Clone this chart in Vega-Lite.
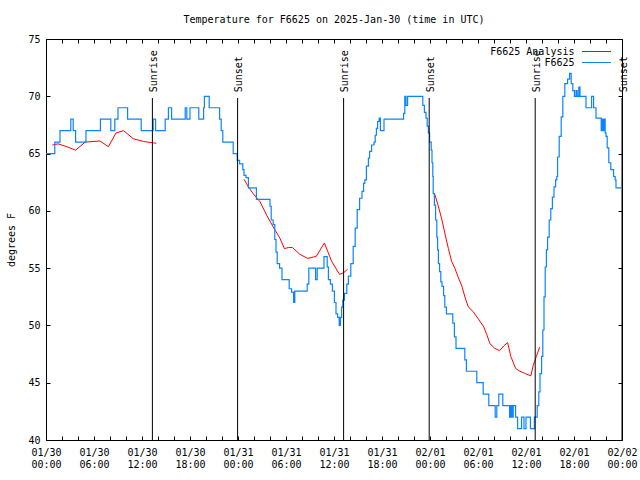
{
  "$schema": "https://vega.github.io/schema/vega-lite/v6.json",
  "width": 576,
  "height": 401,
  "autosize": "none",
  "padding": {"left": 46, "top": 39, "right": 18, "bottom": 40},
  "background": "white",
  "title": {"text": "Temperature for F6625 on 2025-Jan-30 (time in UTC)", "font": "DejaVu Sans Mono", "fontSize": 10, "fontWeight": "normal", "color": "black", "offset": 9, "anchor": "middle"},
  "config": {
    "view": {"stroke": "black", "strokeWidth": 1},
    "axis": {"labelFont": "DejaVu Sans Mono", "labelFontSize": 10, "labelColor": "black", "titleFont": "DejaVu Sans Mono", "titleFontSize": 10, "titleColor": "black", "titleFontWeight": "normal", "grid": false, "domain": false, "tickColor": "black", "tickSize": -4, "tickWidth": 1},
    "legend": {"labelFont": "DejaVu Sans Mono", "labelFontSize": 10, "labelColor": "black"}
  },
  "datasets": {
    "analysis": [
      {"seg": 1, "h": 0.8, "t": 65.75}, {"seg": 1, "h": 1.5, "t": 65.85}, {"seg": 1, "h": 2.6, "t": 65.6}, {"seg": 1, "h": 3.7, "t": 65.3},
      {"seg": 1, "h": 4.9, "t": 66.0}, {"seg": 1, "h": 6.75, "t": 66.1}, {"seg": 1, "h": 7.8, "t": 65.6}, {"seg": 1, "h": 8.75, "t": 66.8},
      {"seg": 1, "h": 9.7, "t": 67.0}, {"seg": 1, "h": 10.9, "t": 66.3}, {"seg": 1, "h": 12.2, "t": 66.05}, {"seg": 1, "h": 13.8, "t": 65.9},
      {"seg": 2, "h": 24.75, "t": 62.75}, {"seg": 2, "h": 25.3, "t": 62.1}, {"seg": 2, "h": 25.9, "t": 61.5}, {"seg": 2, "h": 26.75, "t": 60.8},
      {"seg": 2, "h": 27.6, "t": 59.6}, {"seg": 2, "h": 28.4, "t": 58.6}, {"seg": 2, "h": 29.25, "t": 57.6}, {"seg": 2, "h": 29.8, "t": 56.7},
      {"seg": 2, "h": 30.3, "t": 56.8}, {"seg": 2, "h": 30.8, "t": 56.8}, {"seg": 2, "h": 31.75, "t": 56.2}, {"seg": 2, "h": 32.7, "t": 55.85},
      {"seg": 2, "h": 33.6, "t": 56.0}, {"seg": 2, "h": 33.8, "t": 56.05}, {"seg": 2, "h": 34.8, "t": 57.2}, {"seg": 2, "h": 35.7, "t": 55.6},
      {"seg": 2, "h": 36.7, "t": 54.45}, {"seg": 2, "h": 37.2, "t": 54.6}, {"seg": 2, "h": 37.7, "t": 54.9},
      {"seg": 3, "h": 48.6, "t": 61.45}, {"seg": 3, "h": 49.0, "t": 60.5}, {"seg": 3, "h": 49.5, "t": 59.2}, {"seg": 3, "h": 49.9, "t": 57.9},
      {"seg": 3, "h": 50.3, "t": 56.7}, {"seg": 3, "h": 50.7, "t": 55.6}, {"seg": 3, "h": 51.1, "t": 55.0}, {"seg": 3, "h": 51.5, "t": 54.25},
      {"seg": 3, "h": 52.0, "t": 53.4}, {"seg": 3, "h": 52.4, "t": 52.4}, {"seg": 3, "h": 52.8, "t": 51.6}, {"seg": 3, "h": 53.4, "t": 51.2},
      {"seg": 3, "h": 54.0, "t": 50.6}, {"seg": 3, "h": 54.7, "t": 49.9}, {"seg": 3, "h": 55.1, "t": 49.2}, {"seg": 3, "h": 55.5, "t": 48.4},
      {"seg": 3, "h": 56.1, "t": 48.0}, {"seg": 3, "h": 56.7, "t": 47.8}, {"seg": 3, "h": 57.2, "t": 48.2}, {"seg": 3, "h": 57.7, "t": 48.5},
      {"seg": 3, "h": 58.1, "t": 47.3}, {"seg": 3, "h": 58.7, "t": 46.25}, {"seg": 3, "h": 59.25, "t": 46.0}, {"seg": 3, "h": 59.9, "t": 45.8},
      {"seg": 3, "h": 60.6, "t": 45.6}, {"seg": 3, "h": 60.9, "t": 46.5}, {"seg": 3, "h": 61.3, "t": 47.3}, {"seg": 3, "h": 61.7, "t": 48.1}
    ],
    "obs": [
      {"h": 0.0, "t": 65}, {"h": 1.1, "t": 66}, {"h": 1.75, "t": 67}, {"h": 3.1, "t": 68}, {"h": 3.4, "t": 67}, {"h": 3.7, "t": 66},
      {"h": 5.0, "t": 67}, {"h": 6.8, "t": 68}, {"h": 8.1, "t": 67}, {"h": 8.6, "t": 68}, {"h": 9.0, "t": 69}, {"h": 10.2, "t": 68},
      {"h": 11.9, "t": 67}, {"h": 13.4, "t": 68}, {"h": 13.7, "t": 67}, {"h": 14.9, "t": 68}, {"h": 15.3, "t": 69}, {"h": 15.7, "t": 68},
      {"h": 17.4, "t": 69}, {"h": 17.6, "t": 68}, {"h": 18.0, "t": 69}, {"h": 19.1, "t": 68}, {"h": 19.7, "t": 69}, {"h": 19.8, "t": 70},
      {"h": 20.4, "t": 69}, {"h": 21.7, "t": 68}, {"h": 21.9, "t": 67}, {"h": 22.1, "t": 66}, {"h": 23.4, "t": 65}, {"h": 23.9, "t": 64.4},
      {"h": 24.2, "t": 64.1}, {"h": 24.6, "t": 63.6}, {"h": 24.75, "t": 63.1}, {"h": 25.0, "t": 62.9}, {"h": 25.3, "t": 62}, {"h": 26.3, "t": 61},
      {"h": 28.0, "t": 60.4}, {"h": 28.15, "t": 59.2}, {"h": 28.4, "t": 58.8}, {"h": 28.6, "t": 57.5}, {"h": 28.75, "t": 56.4}, {"h": 28.9, "t": 55.4},
      {"h": 29.2, "t": 55}, {"h": 29.5, "t": 54}, {"h": 30.4, "t": 53.2}, {"h": 30.7, "t": 52.9}, {"h": 30.95, "t": 52}, {"h": 31.1, "t": 53},
      {"h": 32.65, "t": 53.6}, {"h": 32.85, "t": 55}, {"h": 33.7, "t": 54}, {"h": 33.9, "t": 55}, {"h": 34.75, "t": 56}, {"h": 35.15, "t": 55.1},
      {"h": 35.3, "t": 54}, {"h": 35.55, "t": 53.6}, {"h": 35.8, "t": 53}, {"h": 36.05, "t": 52}, {"h": 36.25, "t": 51}, {"h": 36.45, "t": 50.7},
      {"h": 36.65, "t": 50}, {"h": 36.8, "t": 50.7}, {"h": 36.95, "t": 51.6}, {"h": 37.1, "t": 52.2}, {"h": 37.3, "t": 52.8}, {"h": 37.6, "t": 53.6},
      {"h": 37.8, "t": 54.3}, {"h": 38.1, "t": 55.4}, {"h": 38.4, "t": 56.9}, {"h": 38.65, "t": 58.5}, {"h": 38.9, "t": 60.1}, {"h": 39.2, "t": 61.1},
      {"h": 39.5, "t": 61.7}, {"h": 39.7, "t": 62.4}, {"h": 39.85, "t": 62.7}, {"h": 40.05, "t": 63.9}, {"h": 40.3, "t": 64.6}, {"h": 40.45, "t": 65.2},
      {"h": 40.7, "t": 65.75}, {"h": 41.0, "t": 66.0}, {"h": 41.15, "t": 66.6}, {"h": 41.3, "t": 67.2}, {"h": 41.45, "t": 67.8}, {"h": 41.65, "t": 68.1},
      {"h": 41.8, "t": 67}, {"h": 42.25, "t": 68}, {"h": 44.7, "t": 68.5}, {"h": 44.85, "t": 70}, {"h": 45.0, "t": 69.2}, {"h": 45.2, "t": 70},
      {"h": 47.1, "t": 69.2}, {"h": 47.3, "t": 68.6}, {"h": 47.5, "t": 68.1}, {"h": 47.65, "t": 67.4}, {"h": 47.8, "t": 66.8}, {"h": 47.95, "t": 66},
      {"h": 48.15, "t": 65.3}, {"h": 48.25, "t": 64.2}, {"h": 48.35, "t": 63}, {"h": 48.4, "t": 61.5}, {"h": 48.55, "t": 60.5}, {"h": 48.7, "t": 59.2},
      {"h": 48.85, "t": 57.7}, {"h": 48.95, "t": 56.6}, {"h": 49.05, "t": 55.4}, {"h": 49.2, "t": 54.7}, {"h": 49.35, "t": 53.8}, {"h": 49.5, "t": 53.4},
      {"h": 49.7, "t": 52.6}, {"h": 49.85, "t": 51.6}, {"h": 50.05, "t": 51}, {"h": 50.85, "t": 50.2}, {"h": 51.05, "t": 49}, {"h": 51.25, "t": 48},
      {"h": 52.35, "t": 47}, {"h": 52.55, "t": 46}, {"h": 53.85, "t": 45}, {"h": 54.65, "t": 44}, {"h": 55.35, "t": 43}, {"h": 56.15, "t": 42},
      {"h": 56.35, "t": 43}, {"h": 56.6, "t": 44}, {"h": 57.1, "t": 43}, {"h": 57.95, "t": 42}, {"h": 58.1, "t": 43}, {"h": 58.25, "t": 42},
      {"h": 58.4, "t": 43}, {"h": 58.7, "t": 42}, {"h": 58.95, "t": 41}, {"h": 59.45, "t": 42}, {"h": 59.75, "t": 41}, {"h": 60.0, "t": 42},
      {"h": 60.55, "t": 41}, {"h": 61.05, "t": 42}, {"h": 61.4, "t": 43}, {"h": 61.6, "t": 44.2}, {"h": 61.75, "t": 45.8}, {"h": 61.95, "t": 47.3},
      {"h": 62.1, "t": 49.6}, {"h": 62.25, "t": 52.5}, {"h": 62.4, "t": 55.1}, {"h": 62.55, "t": 56.6}, {"h": 62.7, "t": 57.7}, {"h": 62.9, "t": 59.2},
      {"h": 63.1, "t": 60.2}, {"h": 63.3, "t": 61.2}, {"h": 63.5, "t": 62.1}, {"h": 63.7, "t": 62.7}, {"h": 63.85, "t": 63.0}, {"h": 63.95, "t": 64.7},
      {"h": 64.15, "t": 66.5}, {"h": 64.4, "t": 68.2}, {"h": 64.6, "t": 70}, {"h": 64.85, "t": 71.1}, {"h": 65.2, "t": 71.5}, {"h": 65.45, "t": 72},
      {"h": 65.65, "t": 71.1}, {"h": 65.85, "t": 70.5}, {"h": 66.05, "t": 70}, {"h": 66.25, "t": 70.5}, {"h": 66.4, "t": 70}, {"h": 66.6, "t": 70.8},
      {"h": 66.75, "t": 70}, {"h": 67.5, "t": 69}, {"h": 68.2, "t": 70}, {"h": 68.45, "t": 69}, {"h": 68.75, "t": 68.1}, {"h": 69.4, "t": 67},
      {"h": 69.55, "t": 68}, {"h": 69.7, "t": 67}, {"h": 69.8, "t": 68}, {"h": 69.9, "t": 66.8}, {"h": 70.0, "t": 66.5}, {"h": 70.15, "t": 65.5},
      {"h": 70.35, "t": 64.2}, {"h": 70.6, "t": 63.6}, {"h": 70.95, "t": 63}, {"h": 71.15, "t": 62.7}, {"h": 71.25, "t": 62}, {"h": 71.9, "t": 62}
    ],
    "sun": [
      {"h": 13.3, "ev": "Sunrise"}, {"h": 23.95, "ev": "Sunset"}, {"h": 37.2, "ev": "Sunrise"},
      {"h": 47.9, "ev": "Sunset"}, {"h": 61.15, "ev": "Sunrise"}, {"h": 72, "ev": "Sunset"}
    ]
  },
  "layer": [
    {
      "data": {"name": "analysis"},
      "mark": {"type": "line", "strokeWidth": 1},
      "encoding": {
        "x": {"field": "h", "type": "quantitative", "scale": {"domain": [0, 72], "nice": false, "zero": false},
              "axis": {"orient": "bottom", "title": null, "values": [0,2,4,6,8,10,12,14,16,18,20,22,24,26,28,30,32,34,36,38,40,42,44,46,48,50,52,54,56,58,60,62,64,66,68,70,72],
                       "labelExpr": "datum.value % 6 == 0 ? [utcFormat(utc(2025,0,30) + datum.value*3600000, '%m/%d'), utcFormat(utc(2025,0,30) + datum.value*3600000, '%H:%M')] : ''",
                       "labelPadding": 11, "labelOverlap": false, "labelFlush": false, "labelBound": false, "labelLineHeight": 12}},
        "y": {"field": "t", "type": "quantitative", "scale": {"domain": [40, 75], "nice": false, "zero": false},
              "axis": {"orient": "left", "title": "degrees F", "values": [40,45,50,55,60,65,70,75], "labelPadding": 10, "titlePadding": 11}},
        "color": {"datum": "F6625 Analysis", "type": "nominal",
                  "scale": {"domain": ["F6625 Analysis", "F6625"], "range": ["#ff0000", "#0a84ff"]},
                  "legend": {"title": null, "orient": "none", "legendX": 545, "legendY": 7, "padding": 0, "symbolType": "M-2.9,0H2.9", "symbolSize": 100, "symbolStrokeWidth": 1, "labelAlign": "right", "labelOffset": -27.5, "rowPadding": 0}},
        "detail": {"field": "seg", "type": "nominal"}
      }
    },
    {
      "data": {"name": "obs"},
      "mark": {"type": "line", "interpolate": "step-after", "strokeWidth": 1.2},
      "encoding": {
        "x": {"field": "h", "type": "quantitative", "axis": null},
        "y": {"field": "t", "type": "quantitative", "axis": null},
        "color": {"datum": "F6625", "type": "nominal"}
      }
    },
    {
      "data": {"name": "sun"},
      "mark": {"type": "rule", "color": "black", "strokeWidth": 1},
      "encoding": {
        "x": {"field": "h", "type": "quantitative",
              "axis": {"orient": "top", "title": null, "labels": false, "values": [0,2,4,6,8,10,12,14,16,18,20,22,24,26,28,30,32,34,36,38,40,42,44,46,48,50,52,54,56,58,60,62,64,66,68,70,72]}},
        "y": {"datum": 69.85, "type": "quantitative",
              "axis": {"orient": "right", "title": null, "labels": false, "values": [40,45,50,55,60,65,70,75]}},
        "y2": {"datum": 40}
      }
    },
    {
      "data": {"name": "sun"},
      "mark": {"type": "text", "font": "DejaVu Sans Mono", "fontSize": 10, "angle": 270, "align": "left", "baseline": "middle", "dy": 1.5, "color": "black"},
      "encoding": {
        "x": {"field": "h", "type": "quantitative", "axis": null},
        "y": {"datum": 70.35, "type": "quantitative", "axis": null},
        "text": {"field": "ev"}
      }
    }
  ],
  "resolve": {"axis": {"x": "independent", "y": "independent"}}
}
